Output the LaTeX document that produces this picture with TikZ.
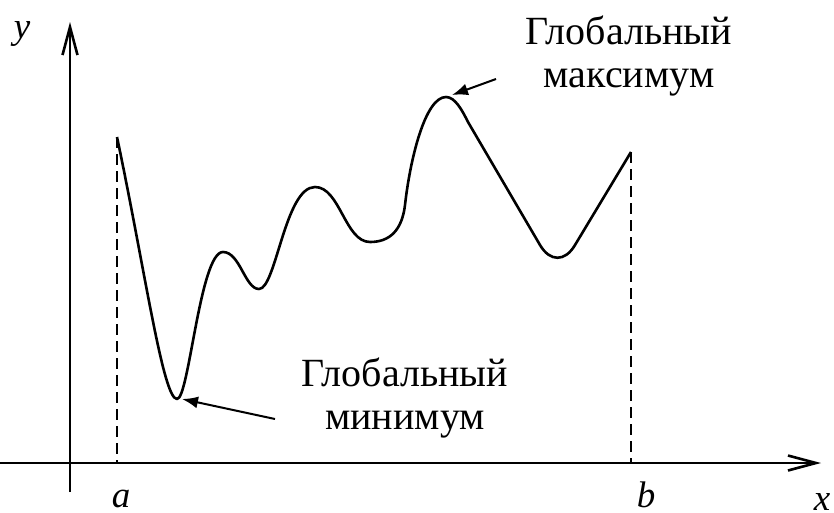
\documentclass[tikz,border=0pt]{standalone}
\usepackage{fontspec}
\setmainfont{Liberation Serif}
\usetikzlibrary{arrows.meta}
\begin{document}
\begin{tikzpicture}[x=1pt,y=-1pt,
  axis/.style={line width=2.6pt,-{Straight Barb[length=28pt,width=15pt,line width=2.6pt]}},
  curve/.style={line width=2.6pt,line join=round},
  guide/.style={line width=1.8pt,dash pattern=on 11pt off 6pt},
  pointer/.style={line width=2pt,-{Latex[length=16pt,width=12pt]}},
  lbl/.style={font=\fontsize{37}{44}\selectfont\itshape,inner sep=0pt,anchor=base},
  txt/.style={font=\fontsize{40}{43}\selectfont,align=center,inner sep=0pt}]
\useasboundingbox (0,0) rectangle (834,512);
% axes
\coordinate (xs) at (0,463);
\coordinate (xe) at (821,463);
\coordinate (ys) at (70,492);
\coordinate (ye) at (70,22);
\draw[axis] (xs) -- (xe);
\draw[axis] (ys) -- (ye);
% points
\coordinate (A) at (117,137);
\coordinate (Ab) at (117,463);
\coordinate (B) at (631,152);
\coordinate (Bb) at (631,463);
\coordinate (min) at (177,399);
\coordinate (max) at (446,97);
\draw[guide] (A) -- (Ab);
\draw[guide] (B) -- (Bb);
% curve
\draw[curve] (A) .. controls (145,270) and (163,399) .. (min)
  .. controls (189,399) and (200,252) .. (223,252)
  .. controls (240,252) and (245,289) .. (259,289)
  .. controls (276,289) and (285,187) .. (315,187)
  .. controls (340,187) and (345,242) .. (370,242)
  .. controls (390,242) and (402,230) .. (405,205)
  .. controls (410,160) and (425,97) .. (max)
  .. controls (455,97) and (462,110) .. (468,122)
  -- (540,245)
  .. controls (550,262) and (565,262) .. (575,245)
  -- (B);
% labels
\node[lbl] (ylab) at (22,38) {y};
\node[lbl] (alab) at (121,507) {a};
\node[lbl] (blab) at (646,507) {b};
\node[lbl] (xlab) at (822,510) {x};
\node[txt] (tmax) at (629,56) {Глобальный\\максимум};
\node[txt] (tmin) at (405,398) {Глобальный\\минимум};
\coordinate (pmax) at (496,79);
\coordinate (pmin) at (275,419);
\draw[pointer] (pmax) -- (452,95);
\draw[pointer] (pmin) -- (182,399);
\end{tikzpicture}
\end{document}
